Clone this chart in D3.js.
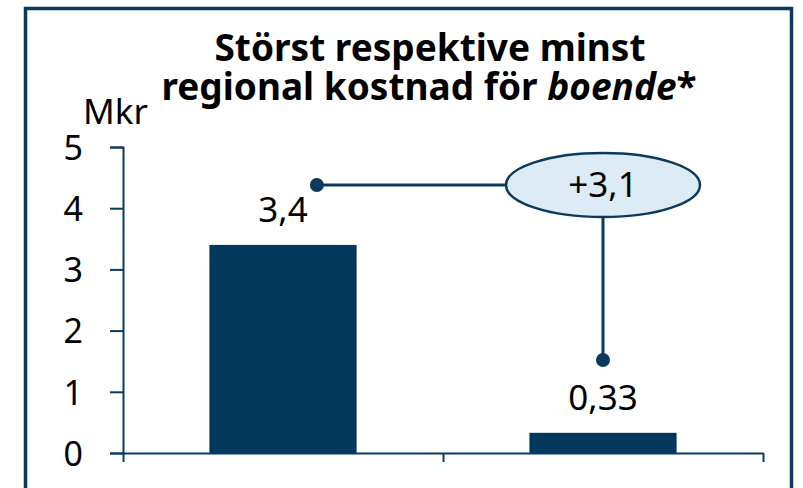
<!DOCTYPE html>
<html>
<head>
<meta charset="utf-8">
<script src="https://cdn.jsdelivr.net/npm/d3@7"></script>
<style>
  body { margin: 0; background: #fff; }
  svg { display: block; font-family: "Noto Sans", "Open Sans", sans-serif; }
</style>
</head>
<body>
<svg width="803" height="488"></svg>
<script>
// data
var categories = ["Störst", "Minst"];
var values = [3.4, 0.33];
var valueLabels = ["3,4", "0,33"];
var yTicks = [0, 1, 2, 3, 4, 5];
var diffLabel = "+3,1";
// annotation: horizontal line level and lower dot level (in Mkr)
var annoLevel = 4.38;
var annoDotLevel = 1.52;

var navy = "#0b3a5d";
var barColor = "#02385b";

var svg = d3.select("svg");

var margin = {top: 147, right: 40, bottom: 35, left: 123};
var width = 763 - margin.left;
var height = 453 - margin.top;

// outer frame
svg.append("rect")
    .attr("x", 25.5)
    .attr("y", 8.5)
    .attr("width", 766)
    .attr("height", 500)
    .attr("fill", "none")
    .attr("stroke", navy)
    .attr("stroke-width", 3.5);

// title, two lines in one text element
var title = svg.append("text")
    .attr("text-anchor", "middle")
    .style("font-size", "37px")
    .style("font-weight", "bold")
    .attr("fill", "#000");
title.append("tspan").attr("x", 430).attr("y", 61).text("Störst respektive minst");
title.append("tspan").attr("x", 429).attr("y", 100).text("regional kostnad för ");
title.append("tspan").style("font-style", "italic").text("boende");
title.append("tspan").text("*");

var g = svg.append("g")
    .attr("transform", "translate(" + margin.left + "," + margin.top + ")");

var xScale = d3.scaleBand()
    .domain(categories)
    .range([0, width])
    .paddingInner(0.54)
    .paddingOuter(0.27);

var yScale = d3.scaleLinear()
    .domain([0, 5])
    .range([height, 0]);

// bars
g.selectAll("rect.bar")
    .data(values)
    .enter().append("rect")
    .attr("class", "bar")
    .attr("x", function(d, i) { return xScale(categories[i]); })
    .attr("y", function(d) { return yScale(d); })
    .attr("width", xScale.bandwidth())
    .attr("height", function(d) { return height - yScale(d); })
    .attr("fill", barColor);

// y axis
var yAxis = g.append("g")
    .call(d3.axisLeft(yScale).tickValues(yTicks).tickSize(13).tickPadding(27).tickFormat(d3.format("d")));
yAxis.select(".domain").attr("stroke", navy).attr("stroke-width", 2);
yAxis.selectAll(".tick line").attr("stroke", navy).attr("stroke-width", 2);
yAxis.selectAll(".tick text")
    .attr("fill", "#000")
    .style("font-size", "34px")
    .attr("dy", "0.36em")
    .style("font-family", "'Noto Sans', sans-serif");

// x axis (ticks between categories)
var xEdge = d3.scaleLinear().domain([0, categories.length]).range([0, width]);
var xAxis = g.append("g")
    .attr("transform", "translate(0," + height + ")")
    .call(d3.axisBottom(xEdge).ticks(categories.length).tickSize(9).tickSizeOuter(0).tickFormat(""));
xAxis.select(".domain").attr("stroke", navy).attr("stroke-width", 2);
xAxis.selectAll(".tick line").attr("stroke", navy).attr("stroke-width", 2);

// value labels
g.selectAll("text.val")
    .data(values)
    .enter().append("text")
    .attr("class", "val")
    .attr("x", function(d, i) { return xScale(categories[i]) + xScale.bandwidth() / 2; })
    .attr("y", function(d) { return yScale(d) - 23; })
    .attr("text-anchor", "middle")
    .style("font-size", "35px")
    .attr("fill", "#000")
    .text(function(d, i) { return valueLabels[i]; });

// unit label
svg.append("text")
    .attr("x", 83)
    .attr("y", 124)
    .style("font-size", "35px")
    .attr("fill", "#000")
    .text("Mkr");

// difference annotation
var cx2 = xScale(categories[1]) + xScale.bandwidth() / 2;
var xLeft = xScale(categories[0]) + xScale.bandwidth() * 0.73;
var yLine = yScale(annoLevel);
var rx = 97, ry = 32;

g.append("line")
    .attr("x1", xLeft).attr("y1", yLine)
    .attr("x2", cx2 - rx).attr("y2", yLine)
    .attr("stroke", navy).attr("stroke-width", 3);
g.append("line")
    .attr("x1", cx2).attr("y1", yLine + ry)
    .attr("x2", cx2).attr("y2", yScale(annoDotLevel))
    .attr("stroke", navy).attr("stroke-width", 3);
g.append("circle")
    .attr("cx", xLeft).attr("cy", yLine).attr("r", 7)
    .attr("fill", navy);
g.append("circle")
    .attr("cx", cx2).attr("cy", yScale(annoDotLevel)).attr("r", 7)
    .attr("fill", navy);
g.append("ellipse")
    .attr("cx", cx2).attr("cy", yLine)
    .attr("rx", rx).attr("ry", ry)
    .attr("fill", "#dcebf5")
    .attr("stroke", navy)
    .attr("stroke-width", 2.5);
g.append("text")
    .attr("x", cx2)
    .attr("y", yLine + 12)
    .attr("text-anchor", "middle")
    .style("font-size", "35px")
    .attr("fill", "#000")
    .text(diffLabel);
</script>
</body>
</html>
